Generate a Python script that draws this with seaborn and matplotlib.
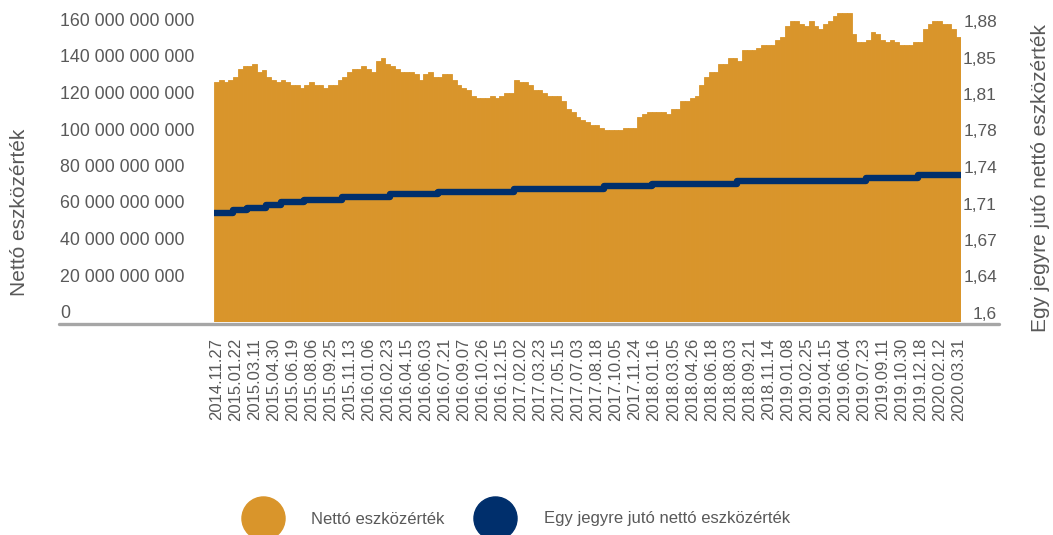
import matplotlib
matplotlib.use("Agg")
import matplotlib.pyplot as plt
from matplotlib.lines import Line2D
import seaborn as sns
import pandas as pd

# ---------------- data ----------------
# Net asset value (billion HUF), one value per sampled trading-day bucket
nav_total = [
    131.5, 132.6, 131.5, 132.6, 134.2, 138.6, 140.3, 140.3, 141.4, 137.0,
    138.1, 134.2, 132.6, 131.5, 132.6, 131.5, 129.9, 129.9, 128.2, 129.9,
    131.5, 129.9, 129.9, 128.2, 129.9, 129.9, 132.6, 134.2, 137.0, 138.6,
    138.6, 140.3, 138.6, 137.0, 143.0, 144.6, 141.4, 140.3, 138.6, 137.0,
    137.0, 137.0, 135.9, 132.6, 135.9, 137.0, 134.2, 134.2, 135.9, 135.9,
    132.6, 129.9, 128.2, 127.1, 123.8, 122.7, 122.7, 122.7, 123.8, 122.7,
    123.8, 125.5, 125.5, 132.6, 131.5, 131.5, 129.9, 127.1, 127.1, 125.5,
    123.8, 123.8, 123.8, 121.1, 116.7, 115.1, 112.3, 110.7, 109.6, 107.9,
    107.9, 106.3, 105.2, 105.2, 105.2, 105.2, 106.3, 106.3, 106.3, 112.3,
    114.0, 115.1, 115.1, 115.1, 115.1, 114.0, 116.7, 116.7, 121.1, 121.1,
    122.7, 123.8, 129.9, 134.2, 137.0, 137.0, 141.4, 141.4, 144.6, 144.6,
    143.0, 149.0, 149.0, 149.0, 150.1, 151.8, 151.8, 151.8, 154.5, 156.2,
    162.2, 164.9, 164.9, 163.3, 162.2, 164.9, 162.2, 160.5, 163.3, 164.9,
    167.7, 169.3, 169.3, 169.3, 157.8, 153.4, 153.4, 154.5, 158.9, 157.8,
    154.5, 153.4, 154.5, 153.4, 151.8, 151.8, 151.8, 153.4, 153.4, 160.5,
    163.3, 164.9, 164.9, 163.3, 163.3, 160.5, 156.2,
]

# Net asset value per unit: bucket index where a new value starts, and the value
unit_change_idx = [0, 4, 7, 11, 14, 19, 27, 37, 47, 63, 82, 92, 110, 137, 148]
unit_values = [1.7045, 1.7071, 1.7096, 1.7125, 1.7148, 1.7173, 1.7199, 1.7225,
               1.7249, 1.7275, 1.7301, 1.7328, 1.7355, 1.7383, 1.7408]

date_labels = [
    "2014.11.27", "2015.01.22", "2015.03.11", "2015.04.30", "2015.06.19",
    "2015.08.06", "2015.09.25", "2015.11.13", "2016.01.06", "2016.02.23",
    "2016.04.15", "2016.06.03", "2016.07.21", "2016.09.07", "2016.10.26",
    "2016.12.15", "2017.02.02", "2017.03.23", "2017.05.15", "2017.07.03",
    "2017.08.18", "2017.10.05", "2017.11.24", "2018.01.16", "2018.03.05",
    "2018.04.26", "2018.06.18", "2018.08.03", "2018.09.21", "2018.11.14",
    "2019.01.08", "2019.02.25", "2019.04.15", "2019.06.04", "2019.07.23",
    "2019.09.11", "2019.10.30", "2019.12.18", "2020.02.12", "2020.03.31",
]
label_step = 4

left_ticks = [0, 20, 40, 60, 80, 100, 120, 140, 160]
left_tick_labels = ["0", "20 000 000 000", "40 000 000 000", "60 000 000 000",
                    "80 000 000 000", "100 000 000 000", "120 000 000 000",
                    "140 000 000 000", "160 000 000 000"]
right_ticks = [1.6, 1.635, 1.67, 1.705, 1.74, 1.775, 1.81, 1.845, 1.88]
right_tick_labels = ["1,6", "1,64", "1,67", "1,71", "1,74", "1,78", "1,81", "1,85", "1,88"]

series_names = ["Nettó eszközérték", "Egy jegyre jutó nettó eszközérték"]

# ---------------- style ----------------
ORANGE = "#D9952B"
BLUE = "#002F6C"
TXT = "#595959"

sns.set_style("white")
plt.rcParams["font.family"] = ["Liberation Sans", "DejaVu Sans"]

W, H = 1053, 535
fig = plt.figure(figsize=(W / 100, H / 100), dpi=100)
ax = fig.add_axes([214 / W, 1 - 322 / H, (961 - 214) / W, (322 - 13) / H])

n = len(nav_total)
df = pd.DataFrame({"idx": list(range(n)), "nav": nav_total})
sns.barplot(data=df, x="idx", y="nav", native_scale=True, width=1.0,
            color=ORANGE, saturation=1, linewidth=0.6, edgecolor=ORANGE, ax=ax)

ax.set_xlim(-0.5, n - 0.5)
ax.set_ylim(0, 160 + 160 * 17 / 292)
ax.set_yticks(left_ticks)
ax.set_yticklabels(left_tick_labels)
ax.set_xticks(list(range(0, n, label_step)))
ax.set_xticklabels(date_labels, rotation=90)
ax.tick_params(axis="y", length=0, pad=154 * 0.72, labelsize=12.8, colors=TXT)
ax.tick_params(axis="x", length=0, pad=11.5, labelsize=12.0, colors=TXT)
for t in ax.get_yticklabels():
    t.set_horizontalalignment("left")
    t.set_verticalalignment("bottom")
ax.set_xlabel("")
ax.set_ylabel("")
for s in ax.spines.values():
    s.set_visible(False)

# secondary axis: per-unit NAV step line
ax2 = ax.twinx()
line_x = [i - 0.5 for i in unit_change_idx] + [n - 0.5]
line_y = unit_values + [unit_values[-1]]
ldf = pd.DataFrame({"x": line_x, "y": line_y})
sns.lineplot(data=ldf, x="x", y="y", ax=ax2, color=BLUE, linewidth=4.6,
             drawstyle="steps-post", sort=False, estimator=None)
ax2.set_ylim(1.6, 1.88 + 0.28 * 17 / 292)
ax2.set_yticks(right_ticks)
ax2.set_yticklabels(right_tick_labels)
ax2.tick_params(axis="y", length=0, pad=36 * 0.72, labelsize=12.5, colors=TXT)
for t in ax2.get_yticklabels():
    t.set_horizontalalignment("right")
    t.set_verticalalignment("bottom")
ax2.set_xlabel("")
ax2.set_ylabel("")
for s in ax2.spines.values():
    s.set_visible(False)
ax2.set_xlim(-0.5, n - 0.5)

# baseline
fig.add_artist(Line2D([59 / W, 999 / W], [1 - 323.5 / H] * 2, transform=fig.transFigure,
                      color="#A6A6A6", linewidth=2.4))

# axis titles
fig.text(20 / W, 1 - 212 / H, series_names[0], rotation=90, ha="center", va="center",
         fontsize=15, color=TXT)
fig.text(1041 / W, 1 - 178 / H, series_names[1], rotation=90, ha="center", va="center",
         fontsize=15, color=TXT)

# legend
handles = [Line2D([], [], linestyle="none", marker="o", markersize=31,
                  markerfacecolor=ORANGE, markeredgecolor=ORANGE),
           Line2D([], [], linestyle="none", marker="o", markersize=31,
                  markerfacecolor=BLUE, markeredgecolor=BLUE)]
fig.legend(handles, series_names, loc="center left", bbox_to_anchor=(241 / W, 1 - 519 / H),
           ncol=2, frameon=False, fontsize=12, labelcolor=TXT, handlelength=2.6,
           handletextpad=1.6, columnspacing=1.75, borderpad=0, borderaxespad=0)

fig.savefig("out.png", dpi=100)
